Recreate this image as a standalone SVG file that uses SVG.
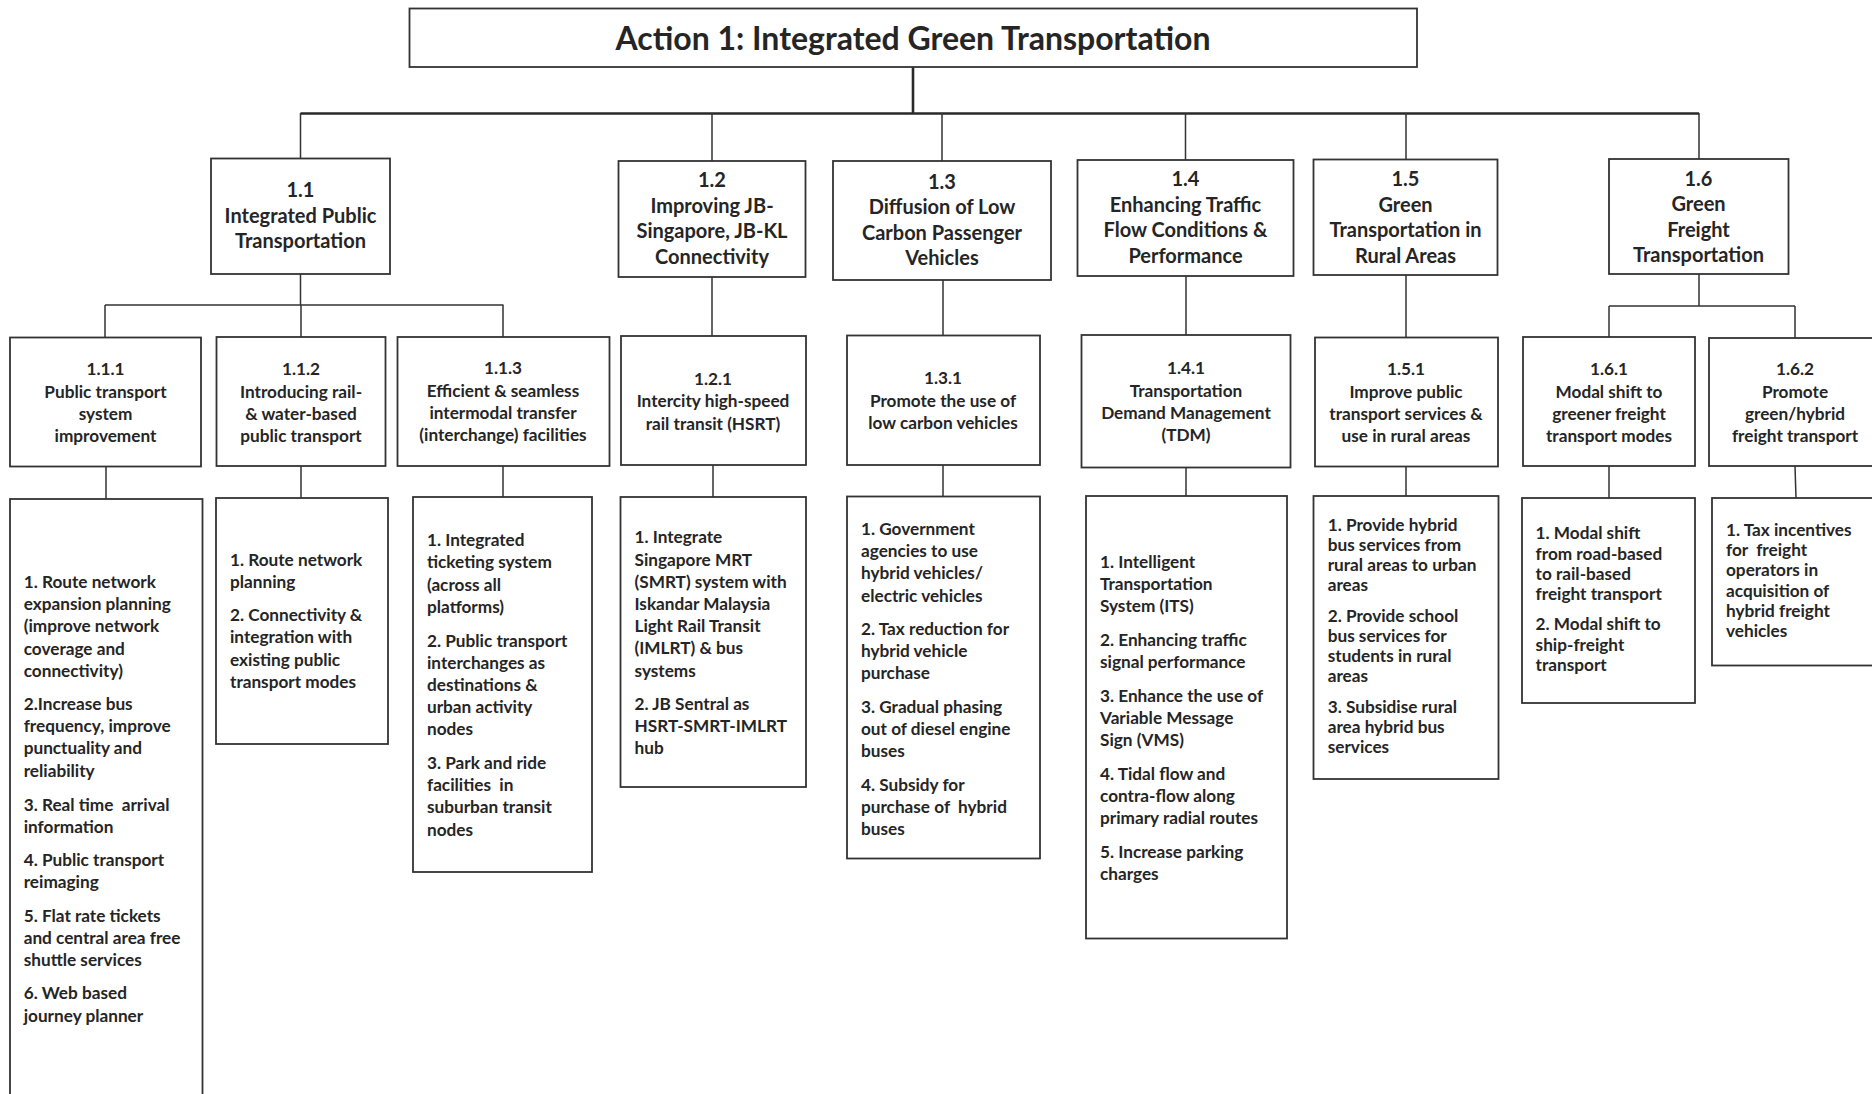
<svg xmlns="http://www.w3.org/2000/svg" width="1872" height="1094" viewBox="0 0 1872 1094">
<style>
.box{fill:#fff;stroke:#333;stroke-width:1.8}
.ln{fill:none;stroke:#333;stroke-width:1.5}
.bus{fill:none;stroke:#2a2a2a;stroke-width:2.6}
text{font-family:Lato,"Liberation Sans",sans-serif;fill:#252525}
.t0{font-size:32px;font-weight:700;text-anchor:middle}
.t1{font-size:20px;font-weight:700;text-anchor:middle}
.t2{font-size:17.2px;font-weight:700;text-anchor:middle}
.t3{font-size:17.2px;font-weight:700}
</style>
<rect width="1872" height="1094" fill="#fff"/>
<g id="connectors">
<path class="bus" d="M913 67V113.5M300.5 113.5H1699"/>
<path class="ln" d="M300.5 113V158M712 113V161M942 113V161M1185.5 113V160M1406 113V159M1699 113V159"/>
<path class="ln" d="M300.5 274V305M105 305H503.5M105 305V337M301 305V337M503 305V337"/>
<path class="ln" d="M106 467V499M301 466V498M503 466V497"/>
<path class="ln" d="M712 277V336M713 465V497"/>
<path class="ln" d="M943 280V335M943 465V496"/>
<path class="ln" d="M1186 276V335M1186 467V496"/>
<path class="ln" d="M1406 275V337M1406 467V496"/>
<path class="ln" d="M1699 274V306M1609 306H1795M1609 306V337M1795 306V338"/>
<path class="ln" d="M1609 466V498M1795 466L1796 498"/>
</g>
<g id="title">
<rect class="box" x="409.5" y="8.5" width="1007.5" height="58.5"/>
<text class="t0" x="913" y="50">Action 1: Integrated Green Transportation</text>
</g>
<g id="n1_1">
<rect class="box" x="211" y="158.5" width="179" height="115.5"/>
<text class="t1" x="300.5" y="197">1.1</text>
<text class="t1" x="300.5" y="222.5">Integrated Public</text>
<text class="t1" x="300.5" y="248">Transportation</text>
</g>
<g id="n1_2">
<rect class="box" x="618.5" y="161" width="187" height="116"/>
<text class="t1" x="712" y="187">1.2</text>
<text class="t1" x="712" y="212.5">Improving JB-</text>
<text class="t1" x="712" y="238">Singapore, JB-KL</text>
<text class="t1" x="712" y="263.5">Connectivity</text>
</g>
<g id="n1_3">
<rect class="box" x="833" y="161" width="218" height="119"/>
<text class="t1" x="942" y="188.5">1.3</text>
<text class="t1" x="942" y="214">Diffusion of Low</text>
<text class="t1" x="942" y="239.5">Carbon Passenger</text>
<text class="t1" x="942" y="265">Vehicles</text>
</g>
<g id="n1_4">
<rect class="box" x="1077.5" y="160" width="216" height="116"/>
<text class="t1" x="1185.5" y="186">1.4</text>
<text class="t1" x="1185.5" y="211.5">Enhancing Traffic</text>
<text class="t1" x="1185.5" y="237">Flow Conditions &amp;</text>
<text class="t1" x="1185.5" y="262.5">Performance</text>
</g>
<g id="n1_5">
<rect class="box" x="1313.5" y="159.5" width="184" height="115.5"/>
<text class="t1" x="1405.5" y="186">1.5</text>
<text class="t1" x="1405.5" y="211.5">Green</text>
<text class="t1" x="1405.5" y="237">Transportation in</text>
<text class="t1" x="1405.5" y="262.5">Rural Areas</text>
</g>
<g id="n1_6">
<rect class="box" x="1609" y="159" width="179.5" height="115"/>
<text class="t1" x="1698.5" y="186">1.6</text>
<text class="t1" x="1698.5" y="211">Green</text>
<text class="t1" x="1698.5" y="236.5">Freight</text>
<text class="t1" x="1698.5" y="262">Transportation</text>
</g>
<g id="n1_1_1">
<rect class="box" x="10" y="337.5" width="191" height="129"/>
<text class="t2" x="105.5" y="375">1.1.1</text>
<text class="t2" x="105.5" y="397.5">Public transport</text>
<text class="t2" x="105.5" y="420">system</text>
<text class="t2" x="105.5" y="442">improvement</text>
</g>
<g id="n1_1_2">
<rect class="box" x="216.5" y="337" width="169" height="129"/>
<text class="t2" x="301" y="375">1.1.2</text>
<text class="t2" x="301" y="397.5">Introducing rail-</text>
<text class="t2" x="301" y="420">&amp; water-based</text>
<text class="t2" x="301" y="442">public transport</text>
</g>
<g id="n1_1_3">
<rect class="box" x="397.5" y="337" width="212" height="129"/>
<text class="t2" x="503" y="374">1.1.3</text>
<text class="t2" x="503" y="396.5">Efficient &amp; seamless</text>
<text class="t2" x="503" y="419">intermodal transfer</text>
<text class="t2" x="503" y="441">(interchange) facilities</text>
</g>
<g id="n1_2_1">
<rect class="box" x="621" y="336" width="185" height="129"/>
<text class="t2" x="713" y="385">1.2.1</text>
<text class="t2" x="713" y="407.3">Intercity high-speed</text>
<text class="t2" x="713" y="429.5">rail transit (HSRT)</text>
</g>
<g id="n1_3_1">
<rect class="box" x="847" y="335.5" width="193" height="129.5"/>
<text class="t2" x="943" y="384">1.3.1</text>
<text class="t2" x="943" y="406.5">Promote the use of</text>
<text class="t2" x="943" y="429">low carbon vehicles</text>
</g>
<g id="n1_4_1">
<rect class="box" x="1081.5" y="335" width="209" height="132.5"/>
<text class="t2" x="1186" y="374">1.4.1</text>
<text class="t2" x="1186" y="396.5">Transportation</text>
<text class="t2" x="1186" y="419">Demand Management</text>
<text class="t2" x="1186" y="441">(TDM)</text>
</g>
<g id="n1_5_1">
<rect class="box" x="1315" y="337.5" width="183" height="129"/>
<text class="t2" x="1406" y="375">1.5.1</text>
<text class="t2" x="1406" y="397.5">Improve public</text>
<text class="t2" x="1406" y="420">transport services &amp;</text>
<text class="t2" x="1406" y="442">use in rural areas</text>
</g>
<g id="n1_6_1">
<rect class="box" x="1523" y="337" width="172" height="129"/>
<text class="t2" x="1609" y="375">1.6.1</text>
<text class="t2" x="1609" y="397.5">Modal shift to</text>
<text class="t2" x="1609" y="420">greener freight</text>
<text class="t2" x="1609" y="442">transport modes</text>
</g>
<g id="n1_6_2">
<rect class="box" x="1709" y="338" width="170" height="128"/>
<text class="t2" x="1795" y="375">1.6.2</text>
<text class="t2" x="1795" y="397.5">Promote</text>
<text class="t2" x="1795" y="420">green/hybrid</text>
<text class="t2" x="1795" y="442">freight transport</text>
</g>
<g id="d1_1_1">
<rect class="box" x="10" y="499" width="192.5" height="605"/>
<text class="t3" x="23.7" y="588">1. Route network</text>
<text class="t3" x="23.7" y="610.2">expansion planning</text>
<text class="t3" x="23.7" y="632.4">(improve network</text>
<text class="t3" x="23.7" y="654.6">coverage and</text>
<text class="t3" x="23.7" y="676.8">connectivity)</text>
<text class="t3" x="23.7" y="710">2.Increase bus</text>
<text class="t3" x="23.7" y="732.2">frequency, improve</text>
<text class="t3" x="23.7" y="754.4">punctuality and</text>
<text class="t3" x="23.7" y="776.6">reliability</text>
<text class="t3" x="23.7" y="810.5" xml:space="preserve">3. Real time  arrival</text>
<text class="t3" x="23.7" y="832.7">information</text>
<text class="t3" x="23.7" y="866">4. Public transport</text>
<text class="t3" x="23.7" y="888.2">reimaging</text>
<text class="t3" x="23.7" y="921.6">5. Flat rate tickets</text>
<text class="t3" x="23.7" y="943.8">and central area free</text>
<text class="t3" x="23.7" y="966">shuttle services</text>
<text class="t3" x="23.7" y="999.3">6. Web based</text>
<text class="t3" x="23.7" y="1021.5">journey planner</text>
</g>
<g id="d1_1_2">
<rect class="box" x="216" y="498" width="172" height="246"/>
<text class="t3" x="230" y="566">1. Route network</text>
<text class="t3" x="230" y="588">planning</text>
<text class="t3" x="230" y="621">2. Connectivity &amp;</text>
<text class="t3" x="230" y="643.3">integration with</text>
<text class="t3" x="230" y="665.6">existing public</text>
<text class="t3" x="230" y="688">transport modes</text>
</g>
<g id="d1_1_3">
<rect class="box" x="413" y="497" width="179" height="375"/>
<text class="t3" x="427" y="546">1. Integrated</text>
<text class="t3" x="427" y="568.4">ticketing system</text>
<text class="t3" x="427" y="590.6">(across all</text>
<text class="t3" x="427" y="612.8">platforms)</text>
<text class="t3" x="427" y="646.5">2. Public transport</text>
<text class="t3" x="427" y="668.7">interchanges as</text>
<text class="t3" x="427" y="690.9">destinations &amp;</text>
<text class="t3" x="427" y="713.1">urban activity</text>
<text class="t3" x="427" y="735.3">nodes</text>
<text class="t3" x="427" y="769">3. Park and ride</text>
<text class="t3" x="427" y="791.2" xml:space="preserve">facilities  in</text>
<text class="t3" x="427" y="813.4">suburban transit</text>
<text class="t3" x="427" y="835.6">nodes</text>
</g>
<g id="d1_2_1">
<rect class="box" x="620.5" y="497" width="185.5" height="290"/>
<text class="t3" x="634.5" y="543.3">1. Integrate</text>
<text class="t3" x="634.5" y="565.5">Singapore MRT</text>
<text class="t3" x="634.5" y="587.7">(SMRT) system with</text>
<text class="t3" x="634.5" y="609.9">Iskandar Malaysia</text>
<text class="t3" x="634.5" y="632.1">Light Rail Transit</text>
<text class="t3" x="634.5" y="654.3">(IMLRT) &amp; bus</text>
<text class="t3" x="634.5" y="676.5">systems</text>
<text class="t3" x="634.5" y="710">2. JB Sentral as</text>
<text class="t3" x="634.5" y="732.2">HSRT-SMRT-IMLRT</text>
<text class="t3" x="634.5" y="754.4">hub</text>
</g>
<g id="d1_3_1">
<rect class="box" x="847" y="496.5" width="193" height="362"/>
<text class="t3" x="861" y="535">1. Government</text>
<text class="t3" x="861" y="557.2">agencies to use</text>
<text class="t3" x="861" y="579.4">hybrid vehicles/</text>
<text class="t3" x="861" y="601.6">electric vehicles</text>
<text class="t3" x="861" y="635">2. Tax reduction for</text>
<text class="t3" x="861" y="657.2">hybrid vehicle</text>
<text class="t3" x="861" y="679.4">purchase</text>
<text class="t3" x="861" y="713">3. Gradual phasing</text>
<text class="t3" x="861" y="735.2">out of diesel engine</text>
<text class="t3" x="861" y="757.4">buses</text>
<text class="t3" x="861" y="790.8">4. Subsidy for</text>
<text class="t3" x="861" y="813" xml:space="preserve">purchase of  hybrid</text>
<text class="t3" x="861" y="835.2">buses</text>
</g>
<g id="d1_4_1">
<rect class="box" x="1086" y="496" width="201" height="442.5"/>
<text class="t3" x="1100" y="567.7">1. Intelligent</text>
<text class="t3" x="1100" y="589.9">Transportation</text>
<text class="t3" x="1100" y="612.1">System (ITS)</text>
<text class="t3" x="1100" y="645.7">2. Enhancing traffic</text>
<text class="t3" x="1100" y="667.9">signal performance</text>
<text class="t3" x="1100" y="701.5">3. Enhance the use of</text>
<text class="t3" x="1100" y="723.7">Variable Message</text>
<text class="t3" x="1100" y="745.9">Sign (VMS)</text>
<text class="t3" x="1100" y="779.8">4. Tidal flow and</text>
<text class="t3" x="1100" y="802">contra-flow along</text>
<text class="t3" x="1100" y="824.2">primary radial routes</text>
<text class="t3" x="1100" y="857.8">5. Increase parking</text>
<text class="t3" x="1100" y="880">charges</text>
</g>
<g id="d1_5_1">
<rect class="box" x="1313.5" y="496" width="185" height="283"/>
<text class="t3" x="1327.7" y="530.7">1. Provide hybrid</text>
<text class="t3" x="1327.7" y="550.9">bus services from</text>
<text class="t3" x="1327.7" y="571.1">rural areas to urban</text>
<text class="t3" x="1327.7" y="591.3">areas</text>
<text class="t3" x="1327.7" y="621.7">2. Provide school</text>
<text class="t3" x="1327.7" y="641.9">bus services for</text>
<text class="t3" x="1327.7" y="662.1">students in rural</text>
<text class="t3" x="1327.7" y="682.3">areas</text>
<text class="t3" x="1327.7" y="713">3. Subsidise rural</text>
<text class="t3" x="1327.7" y="733.2">area hybrid bus</text>
<text class="t3" x="1327.7" y="753.4">services</text>
</g>
<g id="d1_6_1">
<rect class="box" x="1522" y="498" width="173" height="205"/>
<text class="t3" x="1535.6" y="539.3">1. Modal shift</text>
<text class="t3" x="1535.6" y="559.5">from road-based</text>
<text class="t3" x="1535.6" y="579.7">to rail-based</text>
<text class="t3" x="1535.6" y="599.9">freight transport</text>
<text class="t3" x="1535.6" y="630.3">2. Modal shift to</text>
<text class="t3" x="1535.6" y="650.5">ship-freight</text>
<text class="t3" x="1535.6" y="670.7">transport</text>
</g>
<g id="d1_6_2">
<rect class="box" x="1712" y="498" width="170" height="167.5"/>
<text class="t3" x="1726" y="536">1. Tax incentives</text>
<text class="t3" x="1726" y="556.2" xml:space="preserve">for  freight</text>
<text class="t3" x="1726" y="576.4">operators in</text>
<text class="t3" x="1726" y="596.6">acquisition of</text>
<text class="t3" x="1726" y="616.8">hybrid freight</text>
<text class="t3" x="1726" y="637">vehicles</text>
</g>
</svg>
